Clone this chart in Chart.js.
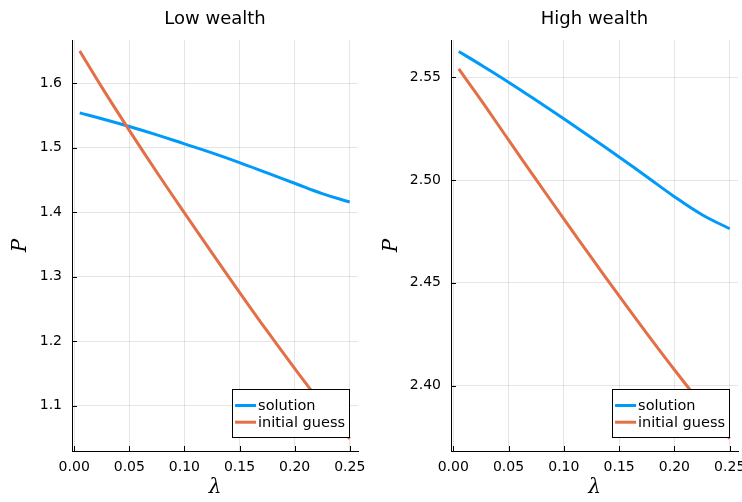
<!DOCTYPE html>
<html>
<head>
<meta charset="utf-8">
<script src="https://cdn.jsdelivr.net/npm/chart.js@4"></script>
<style>
  html, body { margin: 0; padding: 0; background: #fff; }
  #wrap { position: relative; width: 742px; height: 502px; overflow: hidden; }
  canvas { position: absolute; top: 0; }
  #lowChart { left: 0; }
  #highChart { left: 371px; }
</style>
</head>
<body>
<div id="wrap">
  <canvas id="lowChart" width="371" height="502"></canvas>
  <canvas id="highChart" width="371" height="502"></canvas>
</div>
<script>
// Data
const lambdas = [0.005, 0.025, 0.05, 0.075, 0.10, 0.125, 0.15, 0.175, 0.20, 0.225, 0.25];

const lowSolution = [1.554, 1.545, 1.533, 1.520, 1.506, 1.492, 1.477, 1.461, 1.445, 1.429, 1.416];
const lowGuess    = [1.650, 1.594, 1.527, 1.462, 1.399, 1.337, 1.276, 1.216, 1.158, 1.102, 1.049];

const highSolution = [2.5625, 2.5560, 2.5476, 2.5388, 2.5298, 2.5206, 2.5112, 2.5016, 2.4919, 2.4831, 2.4763];
const highGuess    = [2.5540, 2.5390, 2.5195, 2.5002, 2.4811, 2.4622, 2.4436, 2.4254, 2.4077, 2.3906, 2.3742];

const xTicks = [0, 0.05, 0.10, 0.15, 0.20, 0.25];
const xTickLabels = ['0.00', '0.05', '0.10', '0.15', '0.20', '0.25'];
const lowYTicks = [1.1, 1.2, 1.3, 1.4, 1.5, 1.6];
const lowYTickLabels = ['1.1', '1.2', '1.3', '1.4', '1.5', '1.6'];
const highYTicks = [2.40, 2.45, 2.50, 2.55];
const highYTickLabels = ['2.40', '2.45', '2.50', '2.55'];

const seriesNames = ['solution', 'initial guess'];
const seriesColors = ['#009AFA', '#E36F47'];

const tickFont = { family: 'DejaVu Sans', size: 14 };
const mathFont = { family: 'DejaVu Serif', size: 20, style: 'italic' };
const gridColor = 'rgba(0,0,0,0.1)';

// Title above each panel
const panelTitle = {
  id: 'panelTitle',
  afterDraw(chart, args, opts) {
    const { ctx, chartArea } = chart;
    ctx.save();
    ctx.font = '18px "DejaVu Sans"';
    ctx.fillStyle = '#000';
    ctx.textAlign = 'center';
    ctx.textBaseline = 'alphabetic';
    ctx.fillText(opts.text, (chartArea.left + chartArea.right) / 2, 24);
    ctx.restore();
  }
};

// Short tick marks pointing into the plot
const innerTicks = {
  id: 'innerTicks',
  afterDraw(chart) {
    const { ctx, chartArea, scales } = chart;
    ctx.save();
    ctx.strokeStyle = '#000';
    ctx.lineWidth = 1;
    ctx.beginPath();
    scales.x.ticks.forEach((t, i) => {
      const px = Math.round(scales.x.getPixelForTick(i)) + 0.5;
      ctx.moveTo(px, chartArea.bottom);
      ctx.lineTo(px, chartArea.bottom - 5);
    });
    scales.y.ticks.forEach((t, i) => {
      const py = Math.round(scales.y.getPixelForTick(i)) + 0.5;
      ctx.moveTo(chartArea.left, py);
      ctx.lineTo(chartArea.left + 5, py);
    });
    ctx.stroke();
    ctx.restore();
  }
};

// Boxed legend in the lower right corner
const boxLegend = {
  id: 'boxLegend',
  afterDraw(chart) {
    const { ctx, chartArea } = chart;
    const sets = chart.data.datasets;
    ctx.save();
    ctx.font = '14.5px "DejaVu Sans"';
    const textW = Math.max(...sets.map(d => ctx.measureText(d.label).width));
    const w = 26 + textW + 4;
    const h = 48;
    const x = chartArea.right - 9 - w;
    const y = chartArea.bottom - 14 - h;
    ctx.fillStyle = '#fff';
    ctx.fillRect(x, y, w, h);
    ctx.strokeStyle = '#000';
    ctx.lineWidth = 1;
    ctx.strokeRect(Math.round(x) + 0.5, Math.round(y) + 0.5, Math.round(w), h);
    sets.forEach((d, i) => {
      const rowY = y + 16.5 + i * 16.7;
      ctx.strokeStyle = d.borderColor;
      ctx.lineWidth = 3;
      ctx.beginPath();
      ctx.moveTo(x + 3, rowY);
      ctx.lineTo(x + 24, rowY);
      ctx.stroke();
      ctx.fillStyle = '#000';
      ctx.textAlign = 'left';
      ctx.textBaseline = 'middle';
      ctx.fillText(d.label, x + 26, rowY + 1);
    });
    ctx.restore();
  }
};

function makePanel(canvasId, title, solution, guess, yMin, yMax, yTicks, yTickLabels, yAxisWidth, padRight) {
  const pts = arr => arr.map((v, i) => ({ x: lambdas[i], y: v }));
  return new Chart(document.getElementById(canvasId), {
    type: 'line',
    data: {
      datasets: [
        { label: seriesNames[0], data: pts(solution), borderColor: seriesColors[0], borderWidth: 3,
          pointRadius: 0, tension: 0.4, fill: false, order: 1 },
        { label: seriesNames[1], data: pts(guess), borderColor: seriesColors[1], borderWidth: 3,
          pointRadius: 0, tension: 0.4, fill: false, order: 0 }
      ]
    },
    options: {
      responsive: false,
      animation: false,
      devicePixelRatio: 1,
      layout: { padding: { top: 40, right: padRight, left: 0, bottom: 0 } },
      plugins: {
        legend: { display: false },
        tooltip: { enabled: false },
        panelTitle: { text: title }
      },
      scales: {
        x: {
          type: 'linear',
          min: -0.002,
          max: 0.2575,
          afterBuildTicks: s => { s.ticks = xTicks.map(v => ({ value: v })); },
          afterFit: s => { s.height = 51; s.paddingLeft = 0; s.paddingRight = 0; },
          ticks: {
            callback: (v, i) => xTickLabels[i],
            font: tickFont, color: '#000', padding: 8, maxRotation: 0, autoSkip: false
          },
          grid: { color: gridColor, drawTicks: false, tickLength: 0 },
          border: { color: '#000', width: 1 },
          title: { display: true, text: 'λ', font: mathFont, color: '#000', padding: { top: 0, bottom: 2 } }
        },
        y: {
          type: 'linear',
          min: yMin,
          max: yMax,
          afterBuildTicks: s => { s.ticks = yTicks.map(v => ({ value: v })); },
          afterFit: s => { s.width = yAxisWidth; s.paddingTop = 0; s.paddingBottom = 0; },
          ticks: {
            callback: (v, i) => yTickLabels[i],
            font: tickFont, color: '#000', padding: 10, autoSkip: false
          },
          grid: { color: gridColor, drawTicks: false, tickLength: 0 },
          border: { color: '#000', width: 1 },
          title: { display: true, text: 'P', font: mathFont, color: '#000', padding: { top: 9, bottom: 0 } }
        }
      }
    },
    plugins: [panelTitle, innerTicks, boxLegend]
  });
}

makePanel('lowChart', 'Low wealth', lowSolution, lowGuess, 1.030, 1.667, lowYTicks, lowYTickLabels, 72, 13);
makePanel('highChart', 'High wealth', highSolution, highGuess, 2.3682, 2.5681, highYTicks, highYTickLabels, 80, 4);
</script>
</body>
</html>
